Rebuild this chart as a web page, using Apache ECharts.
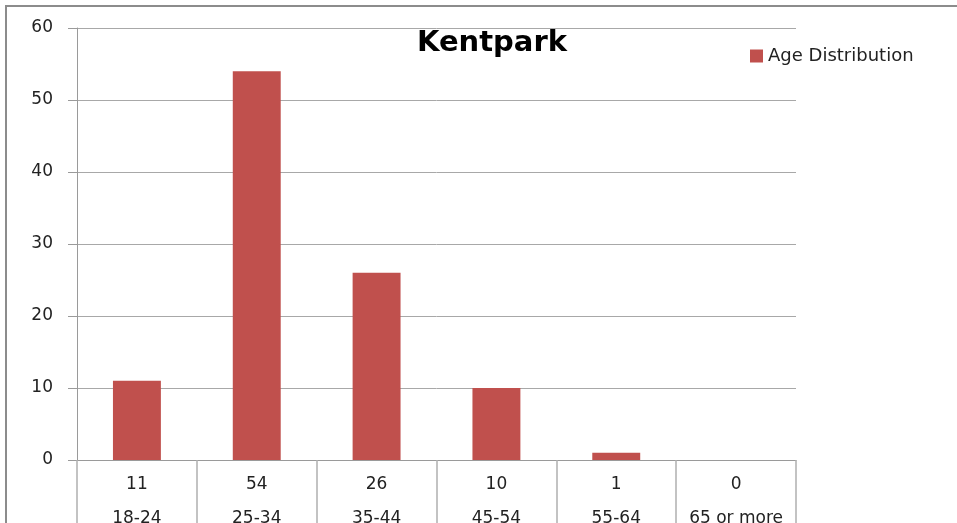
<!DOCTYPE html>
<html>
<head>
<meta charset="utf-8">
<title>Kentpark</title>
<script src="https://cdn.jsdelivr.net/npm/echarts@6/dist/echarts.min.js"></script>
</head>
<body style="margin:0">
<div id="main" style="width:957px;height:523px"></div>
<script type="text/javascript">
// data
var categories = ['18-24', '25-34', '35-44', '45-54', '55-64', '65 or more'];
var ageValues = [11, 54, 26, 10, 1, 0];
var seriesName = 'Age Distribution';

var myChart = echarts.init(document.getElementById('main'));

var option = {
	backgroundColor: '#fff',
	animation: false,
	title: {
		text: 'Kentpark',
		left: 487,
		textAlign: 'center',
		top: 24,
		textStyle: {
			fontFamily: 'DejaVu Sans',
			fontWeight: 'bold',
			fontSize: 29,
			color: '#000'
		}
	},
	legend: {
		left: 745,
		top: 42,
		itemWidth: 13,
		itemHeight: 13,
		itemGap: 6,
		icon: 'rect',
		data: [seriesName],
		textStyle: {
			fontFamily: 'DejaVu Sans',
			fontSize: 18,
			color: '#222'
		}
	},
	graphic: [{
		type: 'rect',
		shape: { x: 6, y: 6, width: 1200, height: 1200 },
		style: { fill: null, stroke: '#8c8c8c', lineWidth: 2 },
		silent: true
	}],
	grid: {
		left: 77,
		right: 161,
		top: 28,
		bottom: 63,
		outerBoundsMode: 'none',
		containLabel: false
	},
	xAxis: {
		type: 'category',
		data: categories,
		axisLine: { lineStyle: { color: '#9a9a9a', width: 1 } },
		axisTick: {
			show: true,
			alignWithLabel: false,
			length: 70,
			lineStyle: { color: '#b0b0b0', width: 1.5 }
		},
		axisLabel: {
			margin: 8,
			lineHeight: 34,
			fontFamily: 'DejaVu Sans',
			fontSize: 17,
			color: '#222',
			interval: 0,
			formatter: function(value, idx) {
				return ageValues[idx] + '\n' + value;
			}
		}
	},
	yAxis: {
		type: 'value',
		min: 0,
		max: 60,
		interval: 10,
		axisLine: { show: true, lineStyle: { color: '#9a9a9a', width: 1 } },
		axisTick: { show: true, length: 9, lineStyle: { color: '#9a9a9a' } },
		splitLine: { show: true, lineStyle: { color: '#a8a8a8', width: 1 } },
		axisLabel: {
			margin: 24,
			fontFamily: 'DejaVu Sans',
			fontSize: 17,
			color: '#222'
		}
	},
	series: [{
		name: seriesName,
		type: 'bar',
		data: ageValues,
		barWidth: '40%',
		itemStyle: { color: '#c0504d' }
	}]
};

myChart.setOption(option);
</script>
</body>
</html>
